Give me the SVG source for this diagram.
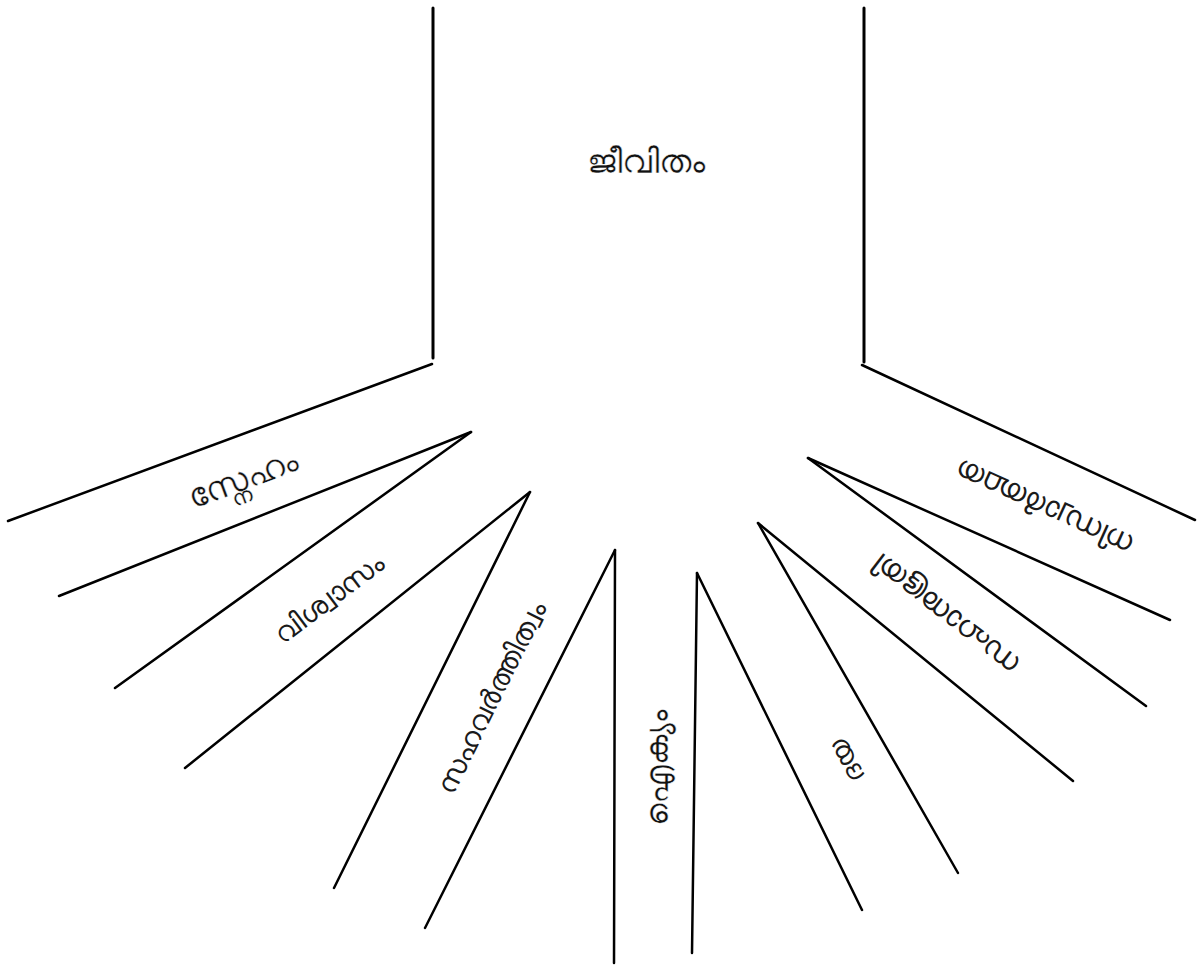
<svg xmlns="http://www.w3.org/2000/svg" width="1203" height="965" viewBox="0 0 1203 965">
<style>
.ln{stroke:#000;stroke-width:2.5;fill:none;stroke-linecap:round}
.lbl{font-family:"Noto Sans","DejaVu Sans",sans-serif;font-size:30px;font-weight:400;fill:#1a1a1a;text-anchor:middle;dominant-baseline:central}
.big{fill:#111;stroke:#fff;stroke-width:0.45}
</style>
<rect width="1203" height="965" fill="#fff"/>
<g id="connectors">
<line class="ln" x1="433" y1="8" x2="433" y2="358" style="stroke-width:3"/>
<line class="ln" x1="864" y1="8" x2="864" y2="362" style="stroke-width:3"/>
<line class="ln" x1="432" y1="364" x2="8" y2="521"/>
<line class="ln" x1="471" y1="432" x2="59" y2="596"/>
<line class="ln" x1="471" y1="432" x2="115" y2="688"/>
<line class="ln" x1="530" y1="492" x2="185" y2="768"/>
<line class="ln" x1="530" y1="492" x2="334" y2="888"/>
<line class="ln" x1="615" y1="550" x2="425" y2="928"/>
<line class="ln" x1="615" y1="550" x2="614" y2="963"/>
<line class="ln" x1="697" y1="573" x2="692" y2="953"/>
<line class="ln" x1="697" y1="573" x2="862" y2="910"/>
<line class="ln" x1="758" y1="523" x2="958" y2="873"/>
<line class="ln" x1="758" y1="523" x2="1073" y2="781"/>
<line class="ln" x1="808" y1="458" x2="1146" y2="706"/>
<line class="ln" x1="808" y1="458" x2="1170" y2="620"/>
<line class="ln" x1="862" y1="365" x2="1195" y2="520"/>
</g>
<g id="n0"><text class="lbl big" style="font-size:34px" transform="translate(646,160)">ജീവിതം</text></g>
<g id="n1"><text class="lbl big" style="font-size:34px" transform="translate(242,477) rotate(-20.5)">സ്നേഹം</text></g>
<g id="n2"><text class="lbl" style="font-size:28px" transform="translate(328,597) rotate(-37)">വിശ്വാസം</text></g>
<g id="n3"><text class="lbl" style="font-size:28px" transform="translate(490,697) rotate(-63.5)">സഹവർത്തിത്വം</text></g>
<g id="n4"><text class="lbl big" style="font-size:32px" transform="translate(655,768) rotate(-90)">ഐക്യം</text></g>
<g id="n5"><text class="lbl" style="font-size:28px" transform="translate(845,762) rotate(242)">ദയ</text></g>
<g id="n6"><text class="lbl" transform="translate(946,616) rotate(217.5)">സഹാനുഭൂതി</text></g>
<g id="n7"><text class="lbl" transform="translate(1045,509) rotate(204.5)">നിസ്വാർത്ഥത</text></g>
</svg>
